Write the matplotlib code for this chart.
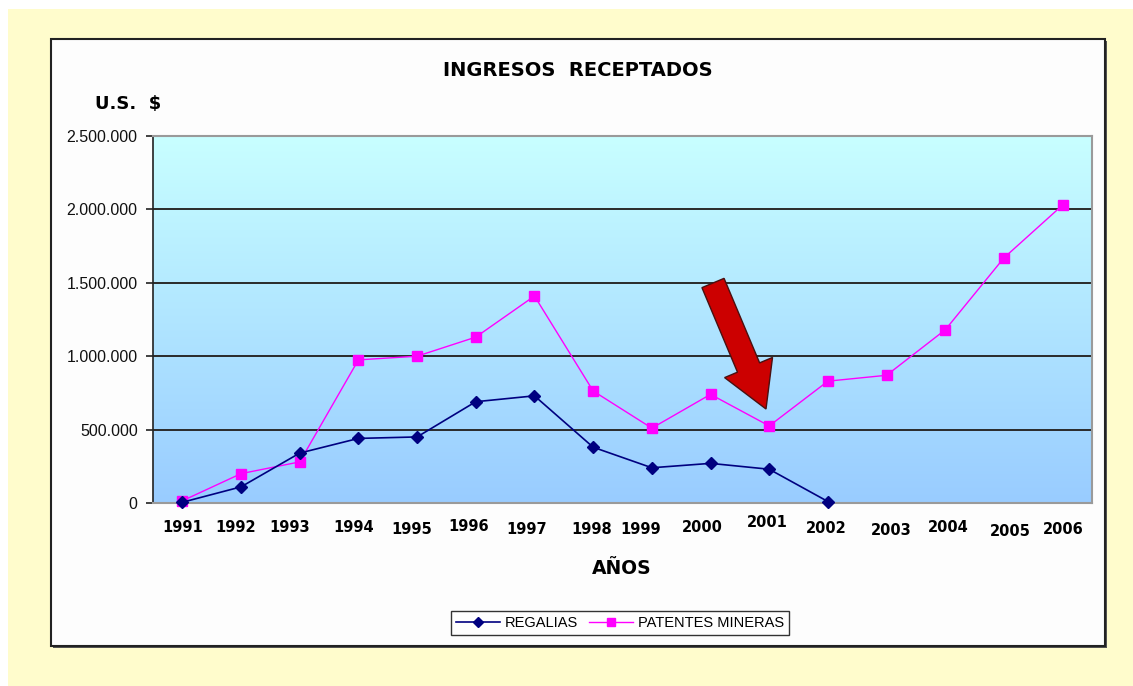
import numpy as np
import matplotlib
matplotlib.use("Agg")
import matplotlib.pyplot as plt
import matplotlib.patches as mpatches
import matplotlib.transforms as mtransforms
from matplotlib.ticker import FuncFormatter

# ---- data ----
years = ["1991", "1992", "1993", "1994", "1995", "1996", "1997", "1998",
         "1999", "2000", "2001", "2002", "2003", "2004", "2005", "2006"]
regalias = [5000, 110000, 340000, 440000, 450000, 690000, 730000, 380000,
            240000, 270000, 230000, 10000, np.nan, np.nan, np.nan, np.nan]
patentes = [15000, 200000, 280000, 975000, 1000000, 1130000, 1410000, 763000,
            510000, 740000, 525000, 830000, 870000, 1180000, 1670000, 2030000]
yticks = [0, 500000, 1000000, 1500000, 2000000, 2500000]

W, H = 1133, 686
fig = plt.figure(figsize=(W / 100, H / 100), dpi=100)
fig.patch.set_facecolor("white")

def px_rect(x0, y0, x1, y1, **kw):
    return mpatches.Rectangle((x0 / W, 1 - y1 / H), (x1 - x0) / W, (y1 - y0) / H,
                              transform=fig.transFigure, **kw)

# outer yellow background
fig.patches.append(px_rect(8, 9, W, H, facecolor="#FFFCCC", edgecolor="none", zorder=0))
# shadow + white panel
fig.patches.append(px_rect(53, 41, 1107, 648, facecolor="#555555", edgecolor="none", zorder=1))
fig.patches.append(px_rect(51, 39, 1105, 646, facecolor="#FDFDFD", edgecolor="#222222",
                           linewidth=1.5, zorder=2))

# axes
ax = fig.add_axes([153 / W, 1 - 503 / H, 939 / W, 367 / H], zorder=3)
x = np.arange(len(years))
ax.set_xlim(-0.5, len(years) - 0.5)
ax.set_ylim(0, 2500000)

# gradient background
grad = np.linspace(0, 1, 256).reshape(-1, 1)
top = np.array([200, 255, 255]) / 255.0
bot = np.array([153, 204, 255]) / 255.0
img = top[None, None, :] * (1 - grad[:, :, None]) + bot[None, None, :] * grad[:, :, None]
ax.imshow(img, extent=[0, 1, 0, 1], transform=ax.transAxes, aspect="auto", zorder=0)

# gridlines
ax.set_yticks(yticks)
for yv in yticks[1:-1]:
    ax.axhline(yv, color="#2a2a2a", linewidth=1.4, zorder=1)

ax.plot(x, regalias, color="#000080", linewidth=1.2, marker="D", markersize=6,
        markerfacecolor="#000080", markeredgecolor="#000080", label="REGALIAS",
        zorder=4, clip_on=False)
ax.plot(x, patentes, color="#FF00FF", linewidth=1.0, marker="s", markersize=7,
        markerfacecolor="#FF00FF", markeredgecolor="#FF00FF", label="PATENTES MINERAS",
        zorder=3, clip_on=False)

# spines
for s in ["top", "right", "bottom"]:
    ax.spines[s].set_color("#9a9a9a")
    ax.spines[s].set_linewidth(1.5)
ax.spines["left"].set_color("#222222")
ax.spines["left"].set_linewidth(1.2)

ax.yaxis.set_major_formatter(FuncFormatter(lambda v, p: f"{int(v):,}".replace(",", ".")))
ax.tick_params(axis="y", direction="out", length=5, width=1.2, pad=6,
               labelsize=11.5, colors="#222222")
for lab in ax.get_yticklabels():
    lab.set_family("Liberation Sans")
    lab.set_color("#111111")

ax.set_xticks(x)
ax.set_xticklabels(years)
ax.tick_params(axis="x", length=0, pad=12, labelsize=10.5)
# irregular placement of year labels as in the original
dxs = [0, -5, -10, -5, -5, -7, -8, -1, -11, -8, -2, -2, 5, 3, 6, 1]
dys = [0, 0, 0, 0, -2, 1, -2, -2, -2, 0, 5, -1, -3, 0, -4, -2]
for lab, dx, dy in zip(ax.get_xticklabels(), dxs, dys):
    lab.set_fontweight("bold")
    lab.set_transform(lab.get_transform() +
                      mtransforms.ScaledTranslation(dx / 100, dy / 100, fig.dpi_scale_trans))

# texts
fig.text(578 / W, 1 - 71 / H, "INGRESOS  RECEPTADOS", ha="center", va="center",
         fontsize=14, fontweight="bold", zorder=5)
fig.text(128 / W, 1 - 104 / H, "U.S.  $", ha="center", va="center",
         fontsize=13, fontweight="bold", zorder=5)
fig.text(622 / W, 1 - 569 / H, "AÑOS", ha="center", va="center",
         fontsize=13.5, fontweight="bold", zorder=5)

# legend
leg = fig.legend(loc="center", bbox_to_anchor=(620 / W, 1 - 623 / H), ncol=2,
                 frameon=True, fancybox=False, edgecolor="black",
                 prop={"family": "Liberation Sans", "size": 10.5},
                 handlelength=3.0, handletextpad=0.3, columnspacing=0.8,
                 borderpad=0.35, markerscale=0.9)
leg.get_frame().set_linewidth(1.0)
leg.set_zorder(6)

# red arrow (pixel geometry)
tail = np.array([713.0, 283.0])
tip = np.array([766.0, 409.0])
d = tip - tail
L = np.hypot(*d)
u = d / L
n = np.array([u[1], -u[0]])
shaft_hw, head_hw, head_len = 12.0, 26.0, 45.0
base = tip - u * head_len
pts = [tail + n * shaft_hw, base + n * shaft_hw, base + n * head_hw, tip,
       base - n * head_hw, base - n * shaft_hw, tail - n * shaft_hw]
pts_fig = [(p[0] / W, 1 - p[1] / H) for p in pts]
arrow = mpatches.Polygon(pts_fig, closed=True, transform=fig.transFigure,
                         facecolor="#CC0000", edgecolor="#4a1010", linewidth=1.0, zorder=7)
fig.patches.append(arrow)

fig.savefig("out.png", dpi=100, facecolor=fig.get_facecolor())
